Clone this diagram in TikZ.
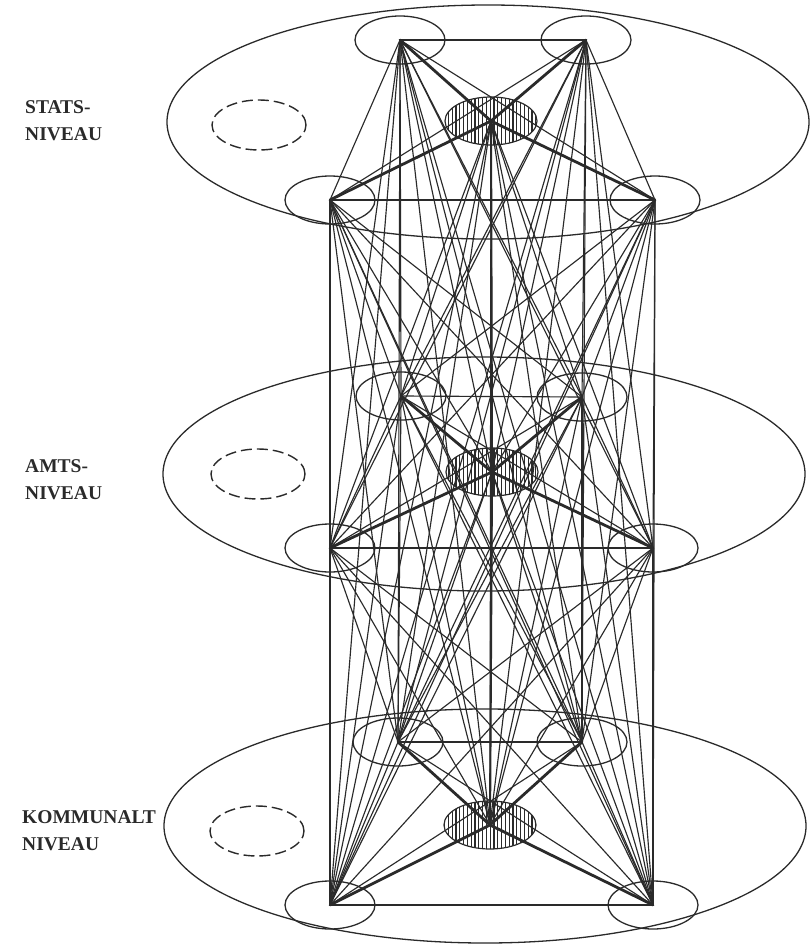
\documentclass[tikz,border=0pt]{standalone}
\usepackage{fontspec}
\setmainfont{Liberation Serif}
\usetikzlibrary{shapes.geometric,patterns.meta}

\definecolor{ink}{HTML}{2A2A2A}

\tikzset{
  wire/.style={draw=ink, line width=1.15pt},
  heavy wire/.style={draw=ink, line width=2.8pt, line cap=round},
  level ring/.style={ellipse, draw=ink, line width=1.3pt, inner sep=0pt,
    minimum width=642pt, minimum height=234pt},
  corner ring/.style={ellipse, draw=ink, line width=1.3pt, inner sep=0pt,
    minimum width=90pt, minimum height=48pt},
  hub ring/.style={ellipse, draw=ink, line width=1.2pt, inner sep=0pt,
    minimum width=92pt, minimum height=48pt,
    pattern={Lines[angle=90, distance=3.8pt, line width=1.3pt]}, pattern color=ink},
  free ring/.style={ellipse, draw=ink, line width=1.4pt, inner sep=0pt,
    dash pattern=on 11pt off 5pt, minimum width=94pt, minimum height=50pt},
  level label/.style={anchor=west, align=left, inner sep=0pt, text=ink,
    font=\bfseries\fontsize{19.5}{27}\selectfont},
}

\begin{document}
\begin{tikzpicture}[x=1pt, y=-1pt, line join=round]

\useasboundingbox (0,0) rectangle (809,947);

% Stats-niveau
\coordinate (stat_bl) at (400,40);
\coordinate (stat_br) at (586,40);
\coordinate (stat_fl) at (330,200);
\coordinate (stat_fr) at (655,200);
\coordinate (stat_c)  at (491,121);
\node[level ring] (stat_ring) at (488,122) {};
\node[free ring] (stat_free) at (259,125) {};
\node[level label] (stat_label) at (25,121) {STATS-\\NIVEAU};

% Amts-niveau
\coordinate (amt_bl) at (401,396);
\coordinate (amt_br) at (582,397);
\coordinate (amt_fl) at (330,548);
\coordinate (amt_fr) at (653,548);
\coordinate (amt_c)  at (492,472);
\node[level ring] (amt_ring) at (484,474) {};
\node[free ring] (amt_free) at (258,474) {};
\node[level label] (amt_label) at (25,480) {AMTS-\\NIVEAU};

% Kommunalt niveau
\coordinate (kom_bl) at (398,742);
\coordinate (kom_br) at (582,742);
\coordinate (kom_fl) at (330,905);
\coordinate (kom_fr) at (653,905);
\coordinate (kom_c)  at (490,825);
\node[level ring] (kom_ring) at (485,826) {};
\node[free ring] (kom_free) at (257,831) {};
\node[level label] (kom_label) at (22,831) {KOMMUNALT\\NIVEAU};

% Corner and hub rings
\foreach \lv in {stat,amt,kom} {
  \node[corner ring] (\lv_bl_ring) at (\lv_bl) {};
  \node[corner ring] (\lv_br_ring) at (\lv_br) {};
  \node[corner ring] (\lv_fl_ring) at (\lv_fl) {};
  \node[corner ring] (\lv_fr_ring) at (\lv_fr) {};
  \node[hub ring] (\lv_hub) at (\lv_c) {};
}

% Every unit linked to every other
\foreach \a [count=\i] in {stat_bl,stat_br,stat_fl,stat_fr,stat_c,
    amt_bl,amt_br,amt_fl,amt_fr,amt_c,kom_bl,kom_br,kom_fl,kom_fr,kom_c} {
  \foreach \b [count=\j] in {stat_bl,stat_br,stat_fl,stat_fr,stat_c,
      amt_bl,amt_br,amt_fl,amt_fr,amt_c,kom_bl,kom_br,kom_fl,kom_fr,kom_c} {
    \ifnum\j>\i \draw[wire] (\a) -- (\b); \fi
  }
}

% Heavy links to the hub
\foreach \lv in {stat,amt,kom} {
  \draw[heavy wire] (\lv_bl) -- (\lv_c) -- (\lv_fr);
  \draw[heavy wire] (\lv_br) -- (\lv_c) -- (\lv_fl);
}
\draw[heavy wire, line width=2.1pt] (stat_c) -- (amt_c) -- (kom_c);

\end{tikzpicture}
\end{document}
